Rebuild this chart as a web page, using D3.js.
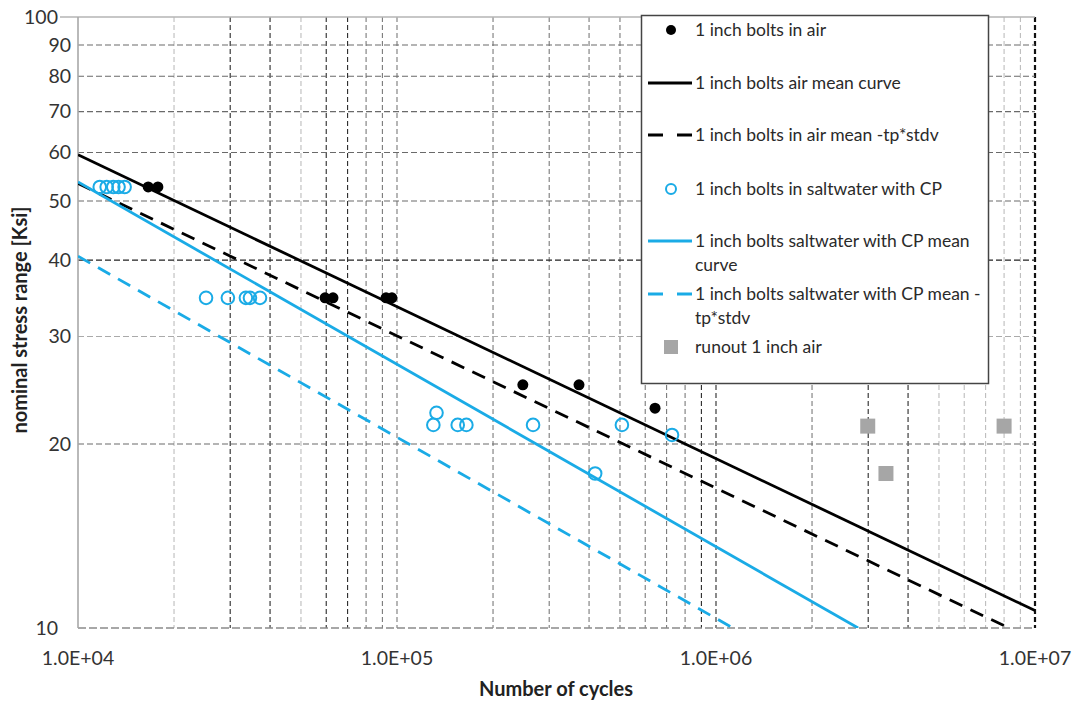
<!DOCTYPE html>
<html><head><meta charset="utf-8">
<script src="https://cdn.jsdelivr.net/npm/d3@7"></script>
<style>
html,body{margin:0;padding:0;background:#fff;}
svg{display:block;font-family:"Lato","Liberation Sans",sans-serif;}
</style></head>
<body>
<svg id="chart" width="1077" height="702"></svg>
<script>
// ---- data (cycles N, stress range S in ksi) ----
const airN = [16600, 17800, 59500, 63000, 92400, 96400, 248000, 372000, 644000];
const airS = [52.7, 52.7, 34.7, 34.7, 34.7, 34.7, 25.0, 25.0, 22.9];

const swN = [11700, 12300, 12900, 13400, 14000, 25200, 29500, 33600, 34600, 37200,
             130000, 133000, 155000, 165000, 267000, 418000, 507000, 728000];
const swS = [52.7, 52.7, 52.7, 52.7, 52.7, 34.7, 34.7, 34.7, 34.7, 34.7,
             21.5, 22.5, 21.5, 21.5, 21.5, 17.9, 21.5, 20.7];

const runoutN = [2990000, 3410000, 8000000];
const runoutS = [21.4, 17.9, 21.4];

const airMeanN = [1e4, 1e7];         const airMeanS = [59.5, 10.68];
const airLowN  = [1e4, 8.28e6];      const airLowS  = [53.4, 10];
const swMeanN  = [1e4, 2.79e6];      const swMeanS  = [53.7, 10];
const swLowN   = [1e4, 1.13e6];      const swLowS   = [40.6, 10];

const yTickVals = [10, 20, 30, 40, 50, 60, 70, 80, 90, 100];
const xTickVals = [1e4, 1e5, 1e6, 1e7];
const xTickLabels = ["1.0E+04", "1.0E+05", "1.0E+06", "1.0E+07"];

const legendLabels = [
  ["1 inch bolts in air"],
  ["1 inch bolts air mean curve"],
  ["1 inch bolts in air mean -tp*stdv"],
  ["1 inch bolts in saltwater with CP"],
  ["1 inch bolts saltwater with CP mean", "curve"],
  ["1 inch bolts saltwater with CP mean -", "tp*stdv"],
  ["runout 1 inch air"]
];

// ---- drawing ----
const BLUE = "#1aabe6";
const svg = d3.select("#chart");
const x = d3.scaleLog().domain([1e4, 1e7]).range([78, 1035]);
const y = d3.scaleLog().domain([10, 100]).range([628, 17]);

// vertical minor grid
const vGrid = [];
for (let d = 1e4; d < 1e7; d *= 10) for (let k = 2; k <= 10; k++) vGrid.push(d * k);
const darkV = [3e4, 4e4, 6e4, 7e4, 9e5, 1e6, 3e6, 4e6];
const lightV = [2e4, 5e4, 5e6, 6e6, 7e6, 8e6, 9e6];
const near = (a, b) => Math.abs(a / b - 1) < 1e-6;
const g = svg.append("g");
vGrid.forEach(v => {
  const last = near(v, 1e7);
  const dark = darkV.some(d => near(d, v));
  const light = lightV.some(d => near(d, v));
  g.append("line")
    .attr("x1", x(v)).attr("x2", x(v)).attr("y1", y(100)).attr("y2", y(10))
    .attr("stroke", last ? "#111" : dark ? "#2a2a2a" : light ? "#bdbdbd" : "#7a7a7a")
    .attr("stroke-width", last ? 2.2 : 1.1)
    .attr("stroke-dasharray", "5,3");
});
// horizontal grid
yTickVals.forEach(v => {
  if (v === 100) return;
  const dark = v === 40;
  g.append("line")
    .attr("x1", x(1e4)).attr("x2", x(1e7)).attr("y1", y(v)).attr("y2", y(v))
    .attr("stroke", dark ? "#222" : v === 10 ? "#8a8a8a" : v === 30 ? "#aaa" : "#6a6a6a")
    .attr("stroke-width", v === 10 ? 1.6 : 1.1)
    .attr("stroke-dasharray", v === 10 ? "8,3" : "6,3");
});
// top border & y axis line
g.append("line").attr("x1", x(1e4) - 18).attr("x2", x(1e7)).attr("y1", y(100)).attr("y2", y(100))
  .attr("stroke", "#b5b5b5").attr("stroke-width", 1.6);
g.append("line").attr("x1", x(1e4)).attr("x2", x(1e4)).attr("y1", y(100)).attr("y2", y(10))
  .attr("stroke", "#a8a8a8").attr("stroke-width", 1.6);

// y tick labels
svg.append("g").selectAll("text").data(yTickVals).join("text")
  .attr("x", d => (d === 10 || d === 100) ? 58 : 71)
  .attr("y", d => y(d)).attr("dy", "0.35em")
  .attr("text-anchor", "end").attr("font-size", 19.5).attr("fill", "#333")
  .text(d => d);
// x tick labels
svg.append("g").selectAll("text").data(xTickVals).join("text")
  .attr("x", d => x(d)).attr("y", 665)
  .attr("text-anchor", "middle").attr("font-size", 19.5).attr("fill", "#333")
  .text((d, i) => xTickLabels[i]);

// axis titles
svg.append("text").attr("x", 556).attr("y", 696).attr("text-anchor", "middle")
  .attr("font-size", 20).attr("font-weight", "bold").attr("fill", "#222").text("Number of cycles");
svg.append("text").attr("transform", "translate(27,320) rotate(-90)").attr("text-anchor", "middle")
  .attr("font-size", 20).attr("font-weight", "bold").attr("fill", "#222").text("nominal stress range [Ksi]");

// fit lines
const clip = svg.append("defs").append("clipPath").attr("id", "plotclip");
clip.append("rect").attr("x", x(1e4)).attr("y", y(100)).attr("width", x(1e7) - x(1e4)).attr("height", y(10) - y(100));
const lineGen = d3.line().x(d => x(d[0])).y(d => y(d[1]));
const fits = [
  {N: airMeanN, S: airMeanS, color: "#000", dash: null},
  {N: airLowN, S: airLowS, color: "#000", dash: "14,9"},
  {N: swMeanN, S: swMeanS, color: BLUE, dash: null},
  {N: swLowN, S: swLowS, color: BLUE, dash: "14,9"}
];
const fl = svg.append("g").attr("clip-path", "url(#plotclip)");
fits.forEach(f => {
  fl.append("path").attr("d", lineGen(d3.zip(f.N, f.S)))
    .attr("fill", "none").attr("stroke", f.color).attr("stroke-width", 2.8)
    .attr("stroke-dasharray", f.dash);
});

// points
const pts = svg.append("g");
pts.selectAll("circle.air").data(d3.zip(airN, airS)).join("circle").attr("class", "air")
  .attr("cx", d => x(d[0])).attr("cy", d => y(d[1])).attr("r", 5.5).attr("fill", "#000");
pts.selectAll("circle.sw").data(d3.zip(swN, swS)).join("circle").attr("class", "sw")
  .attr("cx", d => x(d[0])).attr("cy", d => y(d[1])).attr("r", 6.3)
  .attr("fill", "none").attr("stroke", BLUE).attr("stroke-width", 2);
pts.selectAll("rect.run").data(d3.zip(runoutN, runoutS)).join("rect").attr("class", "run")
  .attr("x", d => x(d[0]) - 7.5).attr("y", d => y(d[1]) - 7.5).attr("width", 15).attr("height", 15)
  .attr("fill", "#a6a6a6");

// legend
const lg = svg.append("g");
lg.append("rect").attr("x", 641.5).attr("y", 15.5).attr("width", 347).attr("height", 368)
  .attr("fill", "#fff").attr("stroke", "#444").attr("stroke-width", 1.5);
const rowY = [30, 83, 135, 189, 241, 294, 347];
const symX = 671;
lg.append("circle").attr("cx", symX).attr("cy", rowY[0]).attr("r", 5).attr("fill", "#000");
lg.append("line").attr("x1", 648).attr("x2", 692).attr("y1", rowY[1]).attr("y2", rowY[1]).attr("stroke", "#000").attr("stroke-width", 2.8);
lg.append("line").attr("x1", 648).attr("x2", 692).attr("y1", rowY[2]).attr("y2", rowY[2]).attr("stroke", "#000").attr("stroke-width", 2.8).attr("stroke-dasharray", "15,14");
lg.append("circle").attr("cx", symX).attr("cy", rowY[3]).attr("r", 5).attr("fill", "none").attr("stroke", BLUE).attr("stroke-width", 2);
lg.append("line").attr("x1", 648).attr("x2", 692).attr("y1", rowY[4]).attr("y2", rowY[4]).attr("stroke", BLUE).attr("stroke-width", 2.8);
lg.append("line").attr("x1", 648).attr("x2", 692).attr("y1", rowY[5]).attr("y2", rowY[5]).attr("stroke", BLUE).attr("stroke-width", 2.8).attr("stroke-dasharray", "15,14");
lg.append("rect").attr("x", symX - 7).attr("y", rowY[6] - 7).attr("width", 14).attr("height", 14).attr("fill", "#a6a6a6");
legendLabels.forEach((lines, i) => {
  lines.forEach((t, j) => {
    lg.append("text").attr("x", 695).attr("y", rowY[i] + j * 24).attr("dy", "0.35em")
      .attr("font-size", 17.5).attr("fill", "#2a2a2a").text(t);
  });
});
</script>
</body></html>
